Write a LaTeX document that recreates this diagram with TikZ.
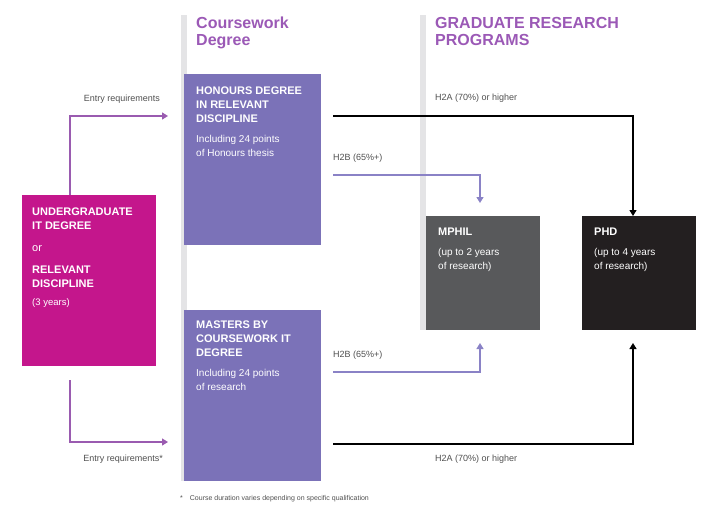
\documentclass[tikz,border=0pt]{standalone}
\usepackage{fontspec}
\setmainfont{Liberation Sans}
\usetikzlibrary{arrows.meta}
\definecolor{mag}{HTML}{C4168C}
\definecolor{purp}{HTML}{7B72B8}
\definecolor{lpurp}{HTML}{8A82C6}
\definecolor{epurp}{HTML}{9A5BB0}
\definecolor{mgray}{HTML}{58595B}
\definecolor{dk}{HTML}{231F20}
\definecolor{hd}{HTML}{9B59B6}
\definecolor{bar}{HTML}{E4E4E6}
\definecolor{txt}{HTML}{505050}
\begin{document}
\begin{tikzpicture}[x=1pt,y=-1pt,
 box/.style={draw=none,inner sep=0pt,anchor=north west},
 wt/.style={text=white,align=left,anchor=north west,inner sep=0pt,font=\fontsize{11}{14}\selectfont},
 lbl/.style={text=txt,font=\fontsize{9}{11}\selectfont,inner sep=0pt},
 head/.style={text=hd,font=\fontsize{16}{17}\selectfont\bfseries,align=left,anchor=north west,inner sep=0pt},
 arr/.style={-{Triangle[length=6pt,width=7pt]},line width=1.3pt}]
\useasboundingbox (0,0) rectangle (720,520);
\fill[bar] (181,15) rectangle (187,481);
\fill[bar] (420,15) rectangle (426,330);
\node[head] (h1) at (196,17) {Coursework\\Degree};
\node[head] (h2) at (435,17) {GRADUATE RESEARCH\\PROGRAMS};
\node[box,fill=mag,minimum width=134,minimum height=171] (ug) at (22,195) {};
\node[box,fill=purp,minimum width=137,minimum height=171] (hon) at (184,74) {};
\node[box,fill=purp,minimum width=137,minimum height=171] (mas) at (184,310) {};
\node[box,fill=mgray,minimum width=114,minimum height=114] (mph) at (426,216) {};
\node[box,fill=dk,minimum width=114,minimum height=114] (phd) at (582,216) {};
\node[wt] (tug) at (32,208) {\textbf{UNDERGRADUATE}\\\textbf{IT DEGREE}\\[8pt]or\\[8pt]\textbf{RELEVANT}\\\textbf{DISCIPLINE}\\[4pt]{\fontsize{9.5}{12}\selectfont(3 years)}};
\node[wt] (thon) at (196,87) {\textbf{HONOURS DEGREE}\\\textbf{IN RELEVANT}\\\textbf{DISCIPLINE}\\[6pt]{\fontsize{10}{13}\selectfont Including 24 points}\\{\fontsize{10}{13}\selectfont of Honours thesis}};
\node[wt] (tmas) at (196,321) {\textbf{MASTERS BY}\\\textbf{COURSEWORK IT}\\\textbf{DEGREE}\\[6pt]{\fontsize{10}{13}\selectfont Including 24 points}\\{\fontsize{10}{13}\selectfont of research}};
\node[wt] (tmph) at (438,228) {\textbf{MPHIL}\\[6pt]{\fontsize{10}{13}\selectfont (up to 2 years}\\{\fontsize{10}{13}\selectfont of research)}};
\node[wt] (tphd) at (594,228) {\textbf{PHD}\\[6pt]{\fontsize{10}{13}\selectfont (up to 4 years}\\{\fontsize{10}{13}\selectfont of research)}};
% entry arrows
\coordinate (e1) at (168,116);
\coordinate (e2) at (168,442);
\draw[arr,epurp] (ug.north west -| 70,0) ++(0,0) |- (e1);
\draw[arr,epurp] (70,380) |- (e2);
\node[lbl,anchor=south east] (l1) at (160,104) {Entry requirements};
\node[lbl,anchor=north east] (l2) at (163,455) {Entry requirements*};
% progression
\coordinate (a1) at (333,116);
\coordinate (a2) at (333,175);
\coordinate (a3) at (333,372);
\coordinate (a4) at (333,444);
\draw[arr,black] (a1) -| (phd.north -| 633,0);
\draw[arr,lpurp] (a2) -| (480,203);
\draw[arr,lpurp] (a3) -| (480,343);
\draw[arr,black] (a4) -| (633,343);
\node[lbl,anchor=south west] (l3) at (435,103) {H2A (70\%) or higher};
\node[lbl,anchor=south west] (l4) at (333,163) {H2B (65\%+)};
\node[lbl,anchor=south west] (l5) at (333,360) {H2B (65\%+)};
\node[lbl,anchor=north west] (l6) at (435,455) {H2A (70\%) or higher};
\node[lbl,anchor=west,font=\fontsize{7}{9}\selectfont] (fn) at (180,499) {*\quad Course duration varies depending on specific qualification};
\end{tikzpicture}
\end{document}
